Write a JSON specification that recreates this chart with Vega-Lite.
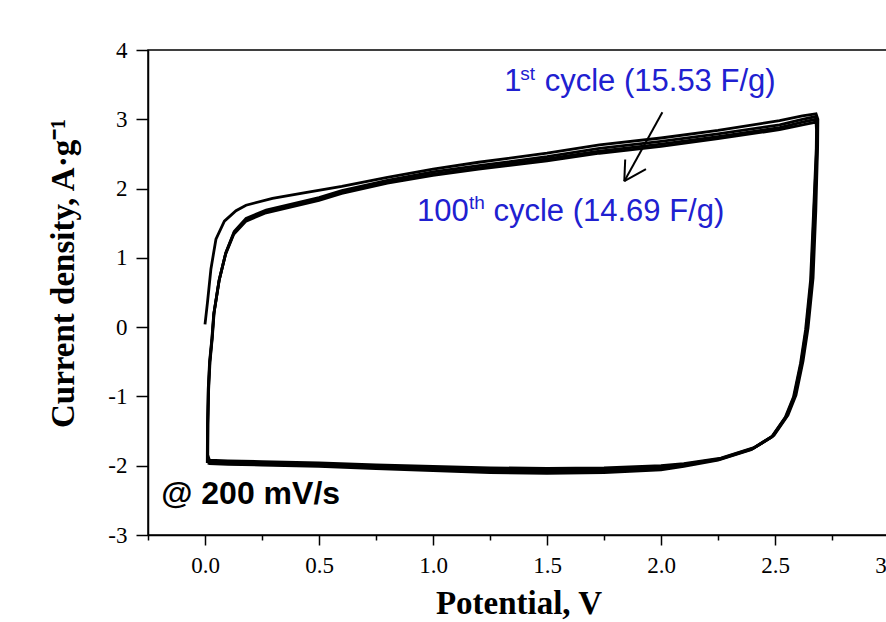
{
  "$schema": "https://vega.github.io/schema/vega-lite/v6.json",
  "autosize": {"type": "none"},
  "padding": {"left": 148, "top": 50, "right": 0, "bottom": 87},
  "width": 741,
  "height": 485,
  "background": "white",
  "config": {
    "view": {"stroke": "black", "strokeWidth": 1.5},
    "axis": {
      "domainColor": "black", "domainWidth": 1.5, "tickColor": "black", "tickWidth": 1.5,
      "labelFont": "Liberation Serif", "labelFontSize": 23, "labelColor": "black",
      "titleFont": "Liberation Serif", "titleFontWeight": "bold", "titleColor": "black", "titleFontSize": 33,
      "grid": false
    }
  },
  "datasets": {
    "cv": [
      {"c":1,"o":1,"v":0.000,"i":0.04},{"c":1,"o":2,"v":0.011,"i":0.36},{"c":1,"o":3,"v":0.026,"i":0.84},{"c":1,"o":4,"v":0.048,"i":1.27},{"c":1,"o":5,"v":0.085,"i":1.53},{"c":1,"o":6,"v":0.136,"i":1.68},{"c":1,"o":7,"v":0.18,"i":1.76},{"c":1,"o":8,"v":0.296,"i":1.86},{"c":1,"o":9,"v":0.44,"i":1.94},{"c":1,"o":10,"v":0.6,"i":2.03},{"c":1,"o":11,"v":0.8,"i":2.16},{"c":1,"o":12,"v":1.0,"i":2.28},{"c":1,"o":13,"v":1.2,"i":2.38},{"c":1,"o":14,"v":1.5,"i":2.51},{"c":1,"o":15,"v":1.73,"i":2.63},{"c":1,"o":16,"v":2.0,"i":2.73},{"c":1,"o":17,"v":2.25,"i":2.84},{"c":1,"o":18,"v":2.52,"i":2.98},{"c":1,"o":19,"v":2.62,"i":3.05},{"c":1,"o":20,"v":2.68,"i":3.08},
      {"c":1,"o":21,"v":2.688,"i":3.0},{"c":1,"o":22,"v":2.687,"i":2.62},{"c":1,"o":23,"v":2.679,"i":1.68},{"c":1,"o":24,"v":2.667,"i":0.71},{"c":1,"o":25,"v":2.645,"i":-0.01},{"c":1,"o":26,"v":2.623,"i":-0.49},{"c":1,"o":27,"v":2.592,"i":-0.98},{"c":1,"o":28,"v":2.557,"i":-1.27},{"c":1,"o":29,"v":2.496,"i":-1.56},{"c":1,"o":30,"v":2.408,"i":-1.74},{"c":1,"o":31,"v":2.263,"i":-1.89},{"c":1,"o":32,"v":2.1,"i":-1.97},{"c":1,"o":33,"v":2.0,"i":-2.0},{"c":1,"o":34,"v":1.75,"i":-2.03},{"c":1,"o":35,"v":1.5,"i":-2.04},{"c":1,"o":36,"v":1.25,"i":-2.03},{"c":1,"o":37,"v":1.0,"i":-2.01},{"c":1,"o":38,"v":0.75,"i":-1.99},{"c":1,"o":39,"v":0.5,"i":-1.96},{"c":1,"o":40,"v":0.25,"i":-1.94},{"c":1,"o":41,"v":0.1,"i":-1.93},{"c":1,"o":42,"v":0.02,"i":-1.92},{"c":1,"o":43,"v":0.012,"i":-1.85},

      {"c":2,"o":1,"v":0.012,"i":-1.92},{"c":2,"o":2,"v":0.013,"i":-1.4},{"c":2,"o":3,"v":0.016,"i":-0.9},{"c":2,"o":4,"v":0.022,"i":-0.5},{"c":2,"o":5,"v":0.032,"i":-0.15},{"c":2,"o":6,"v":0.04,"i":0.21},{"c":2,"o":7,"v":0.063,"i":0.69},{"c":2,"o":8,"v":0.092,"i":1.08},{"c":2,"o":9,"v":0.128,"i":1.38},{"c":2,"o":10,"v":0.18,"i":1.57},{"c":2,"o":11,"v":0.268,"i":1.69},{"c":2,"o":12,"v":0.37,"i":1.77},{"c":2,"o":13,"v":0.5,"i":1.87},{"c":2,"o":14,"v":0.6,"i":1.97},{"c":2,"o":15,"v":0.8,"i":2.12},{"c":2,"o":16,"v":1.0,"i":2.24},{"c":2,"o":17,"v":1.2,"i":2.33},{"c":2,"o":18,"v":1.5,"i":2.46},{"c":2,"o":19,"v":1.73,"i":2.58},{"c":2,"o":20,"v":2.0,"i":2.68},{"c":2,"o":21,"v":2.25,"i":2.79},{"c":2,"o":22,"v":2.52,"i":2.92},{"c":2,"o":23,"v":2.62,"i":3.0},{"c":2,"o":24,"v":2.68,"i":3.04},
      {"c":2,"o":25,"v":2.686,"i":2.95},{"c":2,"o":26,"v":2.685,"i":2.61},{"c":2,"o":27,"v":2.674,"i":1.67},{"c":2,"o":28,"v":2.662,"i":0.70},{"c":2,"o":29,"v":2.64,"i":-0.02},{"c":2,"o":30,"v":2.618,"i":-0.5},{"c":2,"o":31,"v":2.587,"i":-0.99},{"c":2,"o":32,"v":2.552,"i":-1.28},{"c":2,"o":33,"v":2.491,"i":-1.57},{"c":2,"o":34,"v":2.403,"i":-1.75},{"c":2,"o":35,"v":2.258,"i":-1.9},{"c":2,"o":36,"v":2.1,"i":-1.98},{"c":2,"o":37,"v":2.0,"i":-2.02},{"c":2,"o":38,"v":1.75,"i":-2.05},{"c":2,"o":39,"v":1.5,"i":-2.06},{"c":2,"o":40,"v":1.25,"i":-2.05},{"c":2,"o":41,"v":1.0,"i":-2.03},{"c":2,"o":42,"v":0.75,"i":-2.01},{"c":2,"o":43,"v":0.5,"i":-1.98},{"c":2,"o":44,"v":0.25,"i":-1.96},{"c":2,"o":45,"v":0.1,"i":-1.95},{"c":2,"o":46,"v":0.02,"i":-1.94},{"c":2,"o":47,"v":0.011,"i":-1.9},

      {"c":50,"o":1,"v":0.011,"i":-1.94},{"c":50,"o":2,"v":0.012,"i":-1.4},{"c":50,"o":3,"v":0.015,"i":-0.9},{"c":50,"o":4,"v":0.021,"i":-0.5},{"c":50,"o":5,"v":0.031,"i":-0.16},{"c":50,"o":6,"v":0.039,"i":0.2},{"c":50,"o":7,"v":0.062,"i":0.68},{"c":50,"o":8,"v":0.091,"i":1.07},{"c":50,"o":9,"v":0.127,"i":1.36},{"c":50,"o":10,"v":0.18,"i":1.55},{"c":50,"o":11,"v":0.268,"i":1.67},{"c":50,"o":12,"v":0.37,"i":1.75},{"c":50,"o":13,"v":0.5,"i":1.85},{"c":50,"o":14,"v":0.6,"i":1.95},{"c":50,"o":15,"v":0.8,"i":2.10},{"c":50,"o":16,"v":1.0,"i":2.21},{"c":50,"o":17,"v":1.2,"i":2.30},{"c":50,"o":18,"v":1.5,"i":2.43},{"c":50,"o":19,"v":1.73,"i":2.54},{"c":50,"o":20,"v":2.0,"i":2.64},{"c":50,"o":21,"v":2.25,"i":2.75},{"c":50,"o":22,"v":2.52,"i":2.88},{"c":50,"o":23,"v":2.62,"i":2.96},{"c":50,"o":24,"v":2.68,"i":3.0},
      {"c":50,"o":25,"v":2.684,"i":2.9},{"c":50,"o":26,"v":2.683,"i":2.6},{"c":50,"o":27,"v":2.671,"i":1.66},{"c":50,"o":28,"v":2.659,"i":0.69},{"c":50,"o":29,"v":2.637,"i":-0.03},{"c":50,"o":30,"v":2.615,"i":-0.51},{"c":50,"o":31,"v":2.584,"i":-1.0},{"c":50,"o":32,"v":2.549,"i":-1.29},{"c":50,"o":33,"v":2.488,"i":-1.58},{"c":50,"o":34,"v":2.4,"i":-1.76},{"c":50,"o":35,"v":2.255,"i":-1.91},{"c":50,"o":36,"v":2.1,"i":-1.99},{"c":50,"o":37,"v":2.0,"i":-2.04},{"c":50,"o":38,"v":1.75,"i":-2.07},{"c":50,"o":39,"v":1.5,"i":-2.08},{"c":50,"o":40,"v":1.25,"i":-2.07},{"c":50,"o":41,"v":1.0,"i":-2.05},{"c":50,"o":42,"v":0.75,"i":-2.02},{"c":50,"o":43,"v":0.5,"i":-2.0},{"c":50,"o":44,"v":0.25,"i":-1.98},{"c":50,"o":45,"v":0.1,"i":-1.97},{"c":50,"o":46,"v":0.02,"i":-1.96},{"c":50,"o":47,"v":0.01,"i":-1.92},

      {"c":100,"o":1,"v":0.01,"i":-1.96},{"c":100,"o":2,"v":0.011,"i":-1.4},{"c":100,"o":3,"v":0.014,"i":-0.9},{"c":100,"o":4,"v":0.02,"i":-0.5},{"c":100,"o":5,"v":0.03,"i":-0.17},{"c":100,"o":6,"v":0.038,"i":0.18},{"c":100,"o":7,"v":0.061,"i":0.66},{"c":100,"o":8,"v":0.09,"i":1.05},{"c":100,"o":9,"v":0.126,"i":1.34},{"c":100,"o":10,"v":0.18,"i":1.53},{"c":100,"o":11,"v":0.268,"i":1.65},{"c":100,"o":12,"v":0.37,"i":1.73},{"c":100,"o":13,"v":0.5,"i":1.83},{"c":100,"o":14,"v":0.6,"i":1.93},{"c":100,"o":15,"v":0.8,"i":2.08},{"c":100,"o":16,"v":1.0,"i":2.19},{"c":100,"o":17,"v":1.2,"i":2.28},{"c":100,"o":18,"v":1.5,"i":2.40},{"c":100,"o":19,"v":1.73,"i":2.51},{"c":100,"o":20,"v":2.0,"i":2.61},{"c":100,"o":21,"v":2.25,"i":2.72},{"c":100,"o":22,"v":2.52,"i":2.85},{"c":100,"o":23,"v":2.62,"i":2.92},{"c":100,"o":24,"v":2.68,"i":2.96},
      {"c":100,"o":25,"v":2.682,"i":2.85},{"c":100,"o":26,"v":2.681,"i":2.58},{"c":100,"o":27,"v":2.669,"i":1.65},{"c":100,"o":28,"v":2.656,"i":0.68},{"c":100,"o":29,"v":2.634,"i":-0.04},{"c":100,"o":30,"v":2.612,"i":-0.52},{"c":100,"o":31,"v":2.581,"i":-1.01},{"c":100,"o":32,"v":2.545,"i":-1.3},{"c":100,"o":33,"v":2.484,"i":-1.59},{"c":100,"o":34,"v":2.395,"i":-1.77},{"c":100,"o":35,"v":2.25,"i":-1.92},{"c":100,"o":36,"v":2.1,"i":-2.01},{"c":100,"o":37,"v":2.0,"i":-2.06},{"c":100,"o":38,"v":1.75,"i":-2.1},{"c":100,"o":39,"v":1.5,"i":-2.11},{"c":100,"o":40,"v":1.25,"i":-2.1},{"c":100,"o":41,"v":1.0,"i":-2.07},{"c":100,"o":42,"v":0.75,"i":-2.04},{"c":100,"o":43,"v":0.5,"i":-2.01},{"c":100,"o":44,"v":0.25,"i":-1.99},{"c":100,"o":45,"v":0.1,"i":-1.98},{"c":100,"o":46,"v":0.02,"i":-1.97},{"c":100,"o":47,"v":0.012,"i":-1.96}
    ],
    "arrow": [
      {"x":2.006,"y":3.10,"x2":1.839,"y2":2.106},
      {"x":1.843,"y":2.42,"x2":1.839,"y2":2.106},
      {"x":1.934,"y":2.28,"x2":1.839,"y2":2.106}
    ],
    "blueBig": [
      {"x":1.313,"y":3.404,"t":"1"},
      {"x":1.49,"y":3.404,"t":"cycle (15.53 F/g)"},
      {"x":0.93,"y":1.529,"t":"100"},
      {"x":1.265,"y":1.529,"t":"cycle (14.69 F/g)"}
    ],
    "blueSup": [
      {"x":1.383,"y":3.56,"t":"st"},
      {"x":1.158,"y":1.70,"t":"th"}
    ],
    "rate": [
      {"x":-0.192,"y":-2.556,"t":"@ 200 mV/s"}
    ]
  },
  "layer": [
    {
      "data": {"name": "cv"},
      "mark": {"type": "line", "color": "black", "strokeWidth": 2.8, "clip": true},
      "encoding": {
        "x": {
          "field": "v", "type": "quantitative",
          "scale": {"domain": [-0.25, 3.0], "nice": false, "zero": false},
          "axis": {
            "title": "Potential, V",
            "values": [-0.25, 0, 0.25, 0.5, 0.75, 1, 1.25, 1.5, 1.75, 2, 2.25, 2.5, 2.75, 3],
            "labelExpr": "abs(round(datum.value*4)) % 2 == 1 ? '' : format(datum.value, '.1f')",
            "tickSize": {"condition": {"test": "abs(round(datum.value*4)) % 2 == 1", "value": 5}, "value": 10},
            "labelPadding": 9,
            "labelBaseline": "top",
            "labelFlush": false,
            "labelOverlap": false,
            "titleX": 370.5,
            "titleY": 78,
            "titleBaseline": "alphabetic",
            "titleAlign": "center"
          }
        },
        "y": {
          "field": "i", "type": "quantitative",
          "scale": {"domain": [-3, 4], "nice": false, "zero": false},
          "axis": {
            "title": "Current density, A·g⁻¹",
            "values": [-3, -2.5, -2, -1.5, -1, -0.5, 0, 0.5, 1, 1.5, 2, 2.5, 3, 3.5, 4],
            "labelExpr": "abs(round(datum.value*2)) % 2 == 1 ? '' : '' + datum.value",
            "tickSize": {"condition": {"test": "abs(round(datum.value*2)) % 2 == 1", "value": 6}, "value": 12},
            "labelPadding": 9,
            "labelFlush": false,
            "labelOverlap": false,
            "titleX": -75,
            "titleY": 223,
            "titleAngle": -90,
            "titleBaseline": "alphabetic",
            "titleAlign": "center"
          }
        },
        "detail": {"field": "c", "type": "nominal"},
        "order": {"field": "o", "type": "quantitative"}
      }
    },
    {
      "data": {"name": "arrow"},
      "mark": {"type": "rule", "color": "black", "strokeWidth": 2},
      "encoding": {
        "x": {"field": "x", "type": "quantitative"},
        "y": {"field": "y", "type": "quantitative"},
        "x2": {"field": "x2"},
        "y2": {"field": "y2"}
      }
    },
    {
      "data": {"name": "blueBig"},
      "mark": {"type": "text", "font": "Liberation Sans", "fontSize": 31, "color": "#2020d0", "align": "left", "baseline": "alphabetic"},
      "encoding": {
        "x": {"field": "x", "type": "quantitative"},
        "y": {"field": "y", "type": "quantitative"},
        "text": {"field": "t"}
      }
    },
    {
      "data": {"name": "blueSup"},
      "mark": {"type": "text", "font": "Liberation Sans", "fontSize": 19, "color": "#2020d0", "align": "left", "baseline": "alphabetic"},
      "encoding": {
        "x": {"field": "x", "type": "quantitative"},
        "y": {"field": "y", "type": "quantitative"},
        "text": {"field": "t"}
      }
    },
    {
      "data": {"name": "rate"},
      "mark": {"type": "text", "font": "Liberation Sans", "fontWeight": "bold", "fontSize": 32, "color": "black", "align": "left", "baseline": "alphabetic"},
      "encoding": {
        "x": {"field": "x", "type": "quantitative"},
        "y": {"field": "y", "type": "quantitative"},
        "text": {"field": "t"}
      }
    }
  ]
}
